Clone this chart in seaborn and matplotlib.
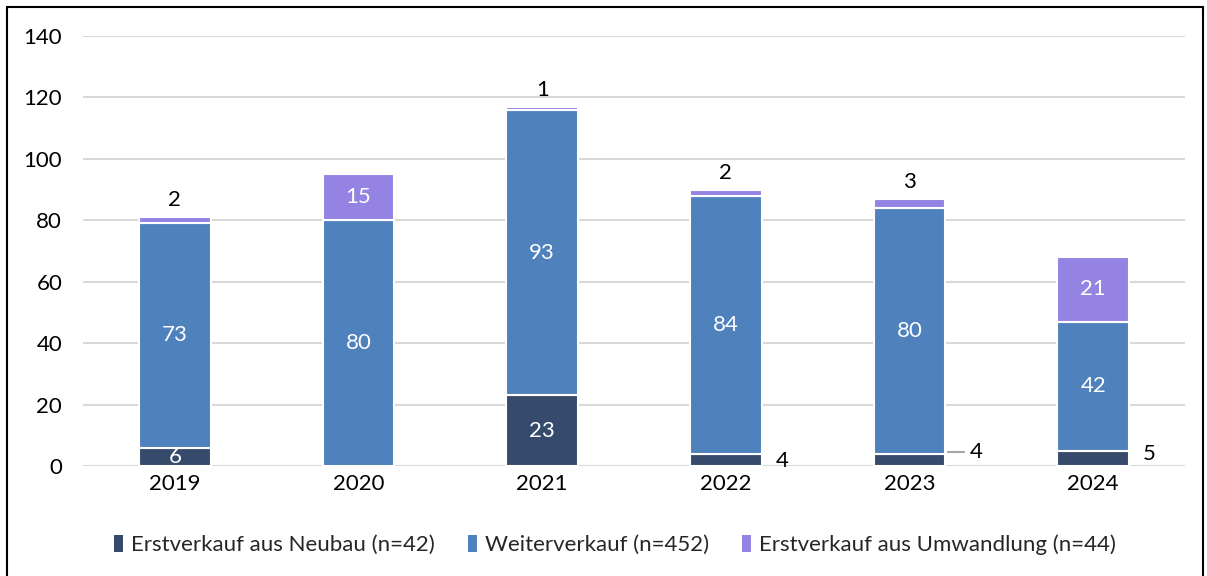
import matplotlib
matplotlib.use("Agg")
import matplotlib.pyplot as plt
import seaborn as sns
import pandas as pd
import numpy as np
from matplotlib.patches import Patch
from matplotlib.lines import Line2D

years = ["2019", "2020", "2021", "2022", "2023", "2024"]
neubau = [6, 0, 23, 4, 4, 5]
weiter = [73, 80, 93, 84, 80, 42]
umwandlung = [2, 15, 1, 2, 3, 21]
series_names = ["Erstverkauf aus Neubau (n=42)", "Weiterverkauf (n=452)",
                "Erstverkauf aus Umwandlung (n=44)"]
colors = ["#364b6b", "#4f81bd", "#9483e2"]
yticks = [0, 20, 40, 60, 80, 100, 120, 140]

sns.set_theme(style="white")
plt.rcParams["font.family"] = ["Lato", "DejaVu Sans"]

fig = plt.figure(figsize=(12.07, 5.76), dpi=100)
ax = fig.add_axes([83/1207, 1-466/576, (1185-83)/1207, (466-36)/576])

df = pd.DataFrame({"year": years, "neubau": neubau, "weiter": weiter, "umw": umwandlung})
bottoms = [np.zeros(len(years)), np.array(neubau, float), np.array(neubau, float) + np.array(weiter)]
cols = ["neubau", "weiter", "umw"]
for c, b, colr in zip(cols, bottoms, colors):
    sns.barplot(data=df, x="year", y=c, bottom=b, color=colr, width=0.392,
                edgecolor="white", linewidth=1.5, ax=ax, saturation=1, errorbar=None)

ax.set_ylim(0, 140)
ax.set_xlim(-0.5, len(years) - 0.5)
ax.set_yticks(yticks)
ax.yaxis.grid(True, color="#d9d9d9", linewidth=1.5)
ax.set_axisbelow(True)
for s in ax.spines.values():
    s.set_visible(False)
ax.set_xlabel("")
ax.set_ylabel("")
fs = 16
ax.tick_params(axis="both", labelsize=fs, colors="black", length=0)
ax.tick_params(axis="y", pad=15)
ax.tick_params(axis="x", pad=6)

for i in range(len(years)):
    n, w, u = neubau[i], weiter[i], umwandlung[i]
    # Neubau labels
    if n >= 6:
        ax.text(i, n / 2, str(n), ha="center", va="center", color="white", fontsize=fs)
    elif n > 0:
        if years[i] == "2023":
            ax.annotate(str(n), xy=(i + 0.196, n), xytext=(i + 0.33, n + 0.4),
                        ha="left", va="center", fontsize=fs, color="black",
                        arrowprops=dict(arrowstyle="-", color="#a6a6a6", lw=1.5,
                                        connectionstyle="angle,angleA=0,angleB=90"))
        else:
            ax.text(i + 0.27, n / 2 - 0.5 if years[i] == "2022" else n / 2 + 1.5, str(n),
                    ha="left", va="center", fontsize=fs, color="black")
    # Weiter labels
    ax.text(i, n + w / 2, str(w), ha="center", va="center", color="white", fontsize=fs)
    # Umwandlung labels
    top = n + w + u
    if u >= 10:
        ax.text(i, n + w + u / 2, str(u), ha="center", va="center", color="white", fontsize=fs)
    else:
        ax.annotate(str(u), xy=(i, top), xytext=(0, 5), textcoords="offset points",
                    ha="center", va="bottom", fontsize=fs, color="black")

handles = [Patch(facecolor=c, edgecolor="none") for c in colors]
fig.legend(handles, series_names, loc="center", bbox_to_anchor=(615/1207, 1-545/576),
           ncol=3, frameon=False, fontsize=fs, handlelength=0.4, handleheight=0.8,
           handletextpad=0.35, columnspacing=1.5)

# outer frame
lw = 1.5
fig.add_artist(Line2D([7/1207, 7/1207], [0, 1-7/576], color="black", lw=lw, transform=fig.transFigure))
fig.add_artist(Line2D([7/1207, 1203/1207], [1-7/576, 1-7/576], color="black", lw=lw, transform=fig.transFigure))
fig.add_artist(Line2D([1203/1207, 1203/1207], [0, 1-7/576], color="black", lw=lw, transform=fig.transFigure))

fig.savefig("out.png", dpi=100)
